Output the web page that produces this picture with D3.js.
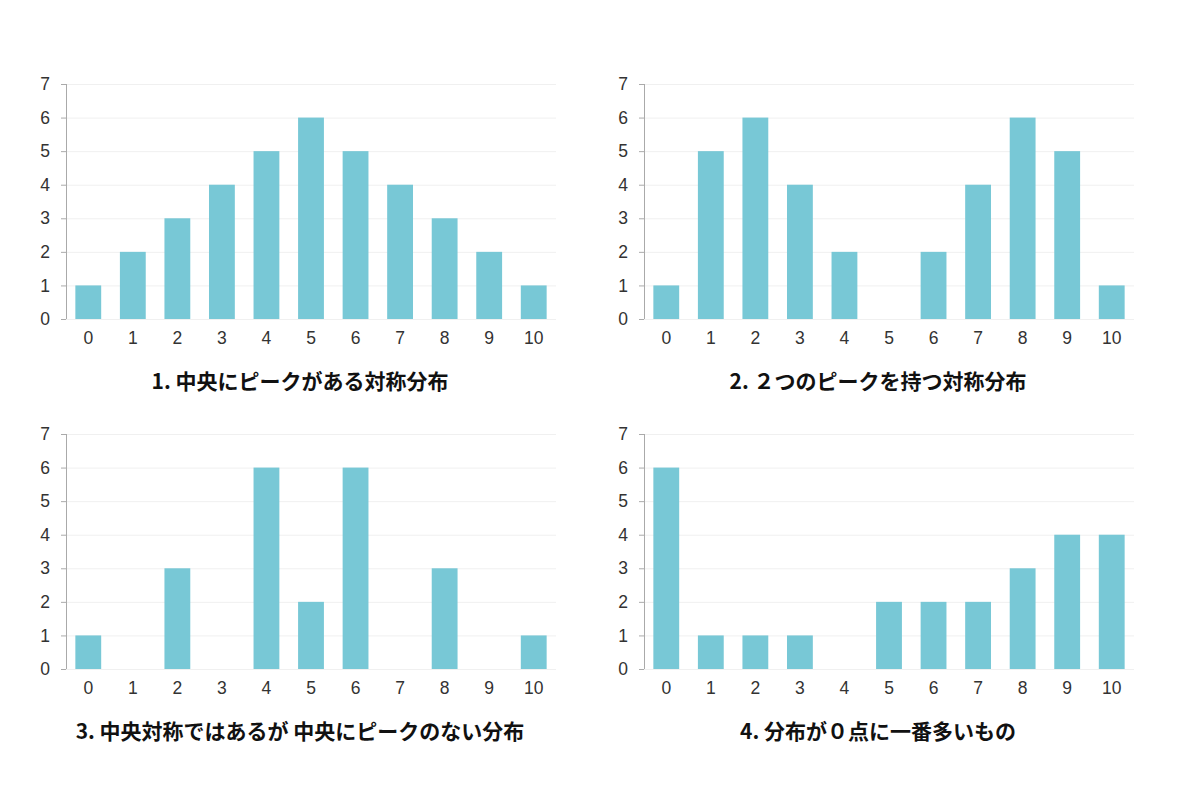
<!DOCTYPE html>
<html>
<head>
<meta charset="utf-8">
<script src="https://cdn.jsdelivr.net/npm/d3@7"></script>
<style>
  body { margin: 0; background: #fff; }
  .tick text { font-family: "Liberation Sans", Arial, sans-serif; }
</style>
</head>
<body>
<script>
const categories = ['0', '1', '2', '3', '4', '5', '6', '7', '8', '9', '10']
const yTicks = [0, 1, 2, 3, 4, 5, 6, 7]
const titles = [
  '1. 中央にピークがある対称分布',
  '2. ２つのピークを持つ対称分布',
  '3. 中央対称ではあるが 中央にピークのない分布',
  '4. 分布が０点に一番多いもの'
]
const series1 = [1, 2, 3, 4, 5, 6, 5, 4, 3, 2, 1]
const series2 = [1, 5, 6, 4, 2, 0, 2, 4, 6, 5, 1]
const series3 = [1, 0, 3, 0, 6, 2, 6, 0, 3, 0, 1]
const series4 = [6, 1, 1, 1, 0, 2, 2, 2, 3, 4, 4]
const allSeries = [series1, series2, series3, series4]

const W = 1179, H = 785
const plotW = 490, plotH = 235
const origins = [[66, 84], [644, 84], [66, 434], [644, 434]]

const svg = d3.select('body').append('svg')
  .attr('width', W)
  .attr('height', H)

const x = d3.scaleBand().domain(categories).range([0, plotW]).paddingInner(0.42).paddingOuter(0.21)
const y = d3.scaleLinear().domain([0, 7]).range([plotH, 0])

allSeries.forEach((values, i) => {
  const [ox, oy] = origins[i]
  const g = svg.append('g').attr('transform', `translate(${ox},${oy})`)

  // gridlines
  g.append('g')
    .selectAll('line')
    .data(yTicks)
    .join('line')
    .attr('x1', 0)
    .attr('x2', plotW)
    .attr('y1', d => y(d) + 0.5)
    .attr('y2', d => y(d) + 0.5)
    .attr('stroke', '#f0f0f0')

  // bars
  g.append('g')
    .selectAll('rect')
    .data(values)
    .join('rect')
    .attr('x', (d, k) => x(categories[k]))
    .attr('y', d => y(d))
    .attr('width', x.bandwidth())
    .attr('height', d => y(0) - y(d))
    .attr('fill', '#78c8d6')

  // y axis
  const yAxis = g.append('g')
    .call(d3.axisLeft(y).tickValues(yTicks).tickFormat(d3.format('d')).tickSize(5).tickPadding(11))
  yAxis.select('.domain').attr('stroke', '#aaa').attr('d', `M0.5,0V${plotH}`)
  yAxis.selectAll('.tick line').attr('stroke', '#aaa')
  yAxis.selectAll('text').attr('font-size', 17.5).attr('fill', '#333')

  // x axis
  const xAxis = g.append('g')
    .attr('transform', `translate(0,${plotH})`)
    .call(d3.axisBottom(x).tickSize(0).tickPadding(13))
  xAxis.select('.domain').remove()
  xAxis.selectAll('text').attr('font-size', 17.5).attr('fill', '#333')

  // title
  g.append('text')
    .attr('x', plotW / 2 - 11)
    .attr('y', plotH + 70)
    .attr('text-anchor', 'middle')
    .attr('font-family', '"Noto Sans CJK JP", sans-serif')
    .attr('font-weight', 'bold')
    .attr('font-size', 21)
    .attr('fill', '#111')
    .text(titles[i])
})
</script>
</body>
</html>
